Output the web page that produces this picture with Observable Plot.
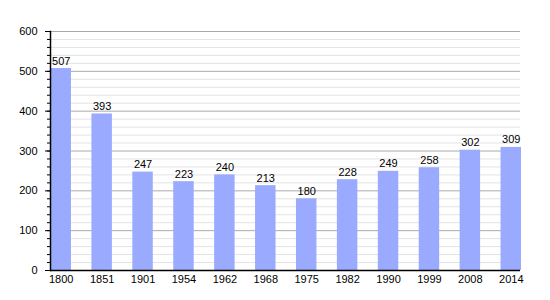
<!DOCTYPE html>
<html><head><meta charset="utf-8">
<script src="https://cdn.jsdelivr.net/npm/d3@7"></script>
<script src="https://cdn.jsdelivr.net/npm/@observablehq/plot@0.6"></script>
<style>body{margin:0;background:#fff}</style>
</head><body><div id="chart"></div>
<script>
const years = ["1800","1851","1901","1954","1962","1968","1975","1982","1990","1999","2008","2014"];
const population = [507,393,247,223,240,213,180,228,249,258,302,309];
const majorTicks = [0,100,200,300,400,500,600];
const minorTicks = d3.range(0, 601, 20);

const data = years.map((y, i) => ({year: y, value: population[i]}));

const chart = Plot.plot({
  width: 550, height: 300,
  marginLeft: 50, marginRight: 30, marginTop: 31, marginBottom: 30,
  style: {fontFamily: "'Liberation Sans', Arial, sans-serif", fontSize: "11px", color: "#000", background: "#fff"},
  x: {domain: years, range: [50.5, 521], paddingInner: 0.5, paddingOuter: 0, round: false, label: null},
  y: {domain: [0, 600], label: null},
  marks: [
    Plot.ruleY(minorTicks.filter(d => d % 100 !== 0), {stroke: "#e3e3e3", strokeWidth: 1}),
    Plot.ruleY(majorTicks, {stroke: "#aaaaaa", strokeWidth: 1}),
    Plot.barY(data, {x: "year", y: "value", fill: "#99aaff"}),
    Plot.text(data, {x: "year", y: "value", text: d => String(d.value), lineAnchor: "bottom", dy: -4, fill: "#000", fontSize: 11}),
    Plot.axisY({ticks: minorTicks, tickSize: 3, text: null, stroke: "#000"}),
    Plot.axisY({ticks: majorTicks, tickSize: 5, tickPadding: 8, stroke: "#000", fill: "#000", label: null}),
    Plot.axisX({tickSize: 0, tickPadding: 5, fill: "#000", label: null}),
    Plot.ruleY([0], {stroke: "#000", strokeWidth: 1.5}),
    Plot.frame({anchor: "left", stroke: "#000", strokeWidth: 1.5})
  ]
});
document.getElementById("chart").appendChild(chart);
</script>
</body></html>
